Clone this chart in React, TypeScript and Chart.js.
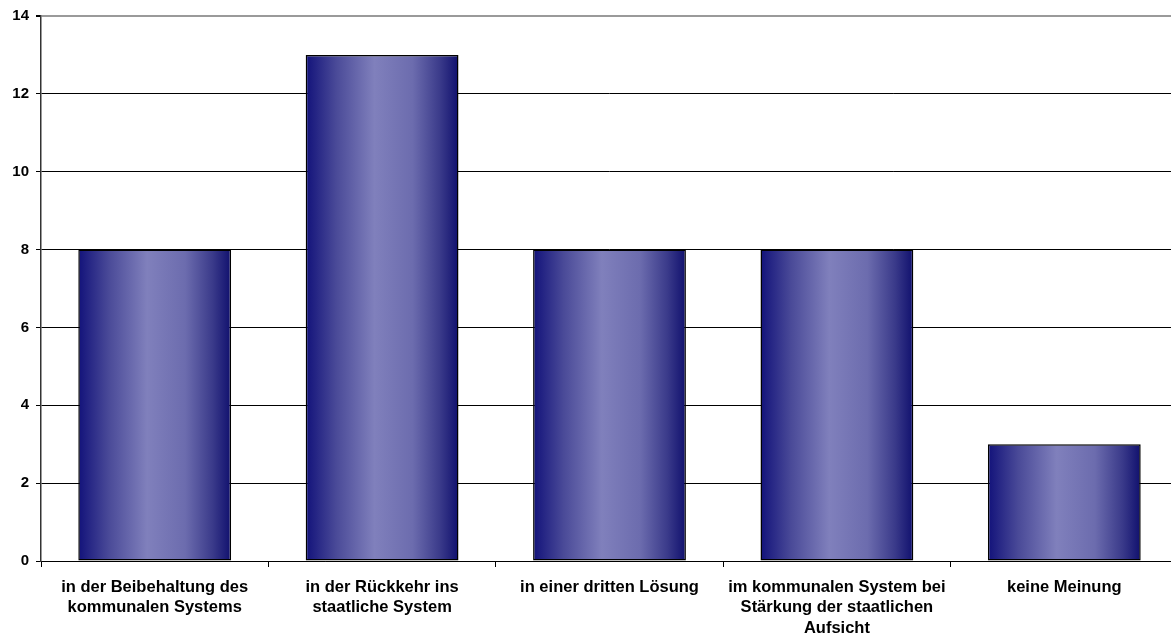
import React, { useEffect, useRef } from "react";
import { Chart, registerables } from "chart.js";

Chart.register(...registerables);

const categories: string[][] = [
  ["in der Beibehaltung des", "kommunalen Systems"],
  ["in der Rückkehr ins", "staatliche System"],
  ["in einer dritten Lösung"],
  ["im kommunalen System bei", "Stärkung der staatlichen", "Aufsicht"],
  ["keine Meinung"],
];
const values: number[] = [8, 13, 8, 8, 3];
const yTicks: number[] = [0, 2, 4, 6, 8, 10, 12, 14];

const BAR_FRACTION = 0.672;
const FONT_FAMILY = "'Liberation Sans', Arial, sans-serif";

export default function App() {
  const ref = useRef<HTMLCanvasElement | null>(null);

  useEffect(() => {
    document.body.style.margin = "0";
    const canvas = ref.current;
    if (!canvas) return;

    // horizontal navy → lavender → navy shading across each bar
    const barFill = (ctx: any) => {
      const chart = ctx.chart;
      const xs = chart.scales?.x;
      if (!xs || ctx.dataIndex === undefined) return "#5a5aa8";
      const cx = xs.getPixelForValue(ctx.dataIndex);
      const w = (xs.width / categories.length) * BAR_FRACTION;
      if (!Number.isFinite(cx) || !Number.isFinite(w) || w <= 0) return "#5a5aa8";
      const g = chart.ctx.createLinearGradient(cx - w / 2, 0, cx + w / 2, 0);
      g.addColorStop(0, "#12127a");
      g.addColorStop(0.2, "#4a4a98");
      g.addColorStop(0.45, "#8080bc");
      g.addColorStop(0.7, "#6c6cae");
      g.addColorStop(0.88, "#3a3a8a");
      g.addColorStop(1, "#10106e");
      return g;
    };

    const chart = new Chart(canvas, {
      type: "bar",
      data: {
        labels: categories,
        datasets: [
          {
            data: values,
            backgroundColor: barFill,
            borderColor: "#000000",
            borderWidth: 1.5,
            borderSkipped: false,
            categoryPercentage: 1,
            barPercentage: BAR_FRACTION,
          },
        ],
      },
      options: {
        animation: false,
        responsive: false,
        maintainAspectRatio: false,
        layout: { padding: { top: 13, right: 0, left: 0, bottom: 0 } },
        plugins: {
          legend: { display: false },
          tooltip: { enabled: false },
        },
        scales: {
          x: {
            grid: {
              offset: true,
              drawOnChartArea: false,
              drawTicks: true,
              tickLength: 6,
              color: "#000000",
            },
            border: { color: "#000000", width: 1 },
            ticks: {
              color: "#000000",
              maxRotation: 0,
              autoSkip: false,
              padding: 10,
              font: { family: FONT_FAMILY, size: 16.5, weight: "bold", lineHeight: 1.25 },
            },
            afterFit: (s: any) => {
              s.height = 76;
            },
          },
          y: {
            min: 0,
            max: 14,
            afterBuildTicks: (s: any) => {
              s.ticks = yTicks.map((v) => ({ value: v }));
            },
            grid: {
              color: (c: any) => (c.tick && c.tick.value === 14 ? "#9a9a9a" : "#000000"),
              lineWidth: (c: any) => (c.tick && c.tick.value === 14 ? 2 : 1),
              tickLength: 5,
              tickColor: "#000000",
            },
            border: { color: "#333333", width: 1.5 },
            ticks: {
              color: "#000000",
              padding: 7,
              font: { family: FONT_FAMILY, size: 15, weight: "bold" },
            },
            afterFit: (s: any) => {
              s.width = 41;
            },
          },
        },
      },
    });

    return () => chart.destroy();
  }, []);

  return (
    <div style={{ width: 1171, height: 637, overflow: "hidden", background: "#ffffff" }}>
      <canvas ref={ref} width={1178} height={637} style={{ display: "block" }} />
    </div>
  );
}
